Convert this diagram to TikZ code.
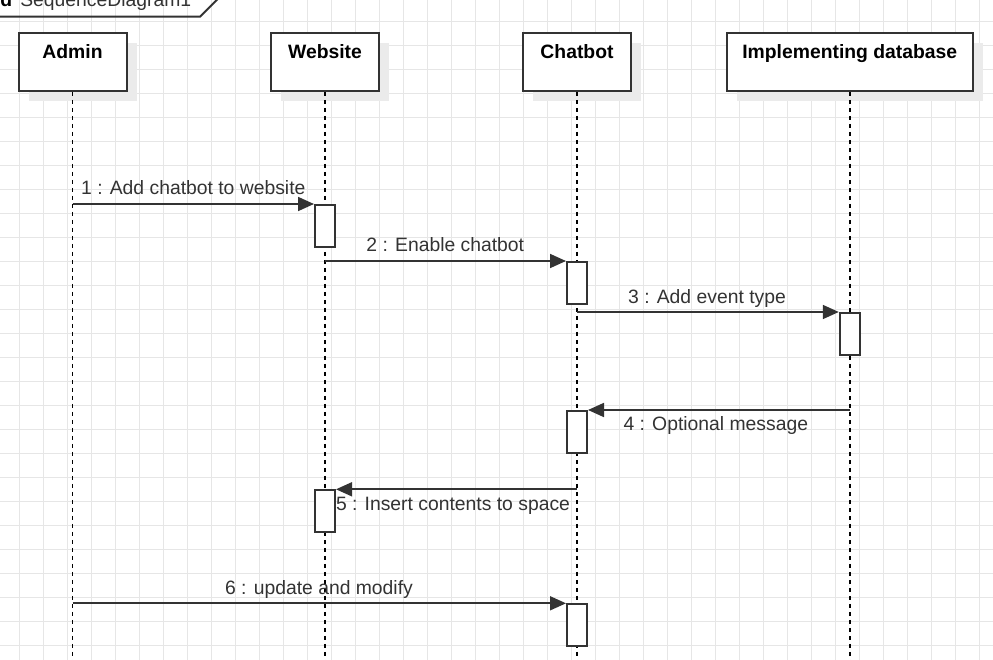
\documentclass[tikz,border=0pt]{standalone}
\usepackage{fontspec}
\setmainfont{Liberation Sans}
\usetikzlibrary{arrows.meta,shadows}
\definecolor{ink}{HTML}{333333}
\definecolor{gridc}{HTML}{E6E6E6}
\definecolor{shade}{HTML}{EBEBEB}
\tikzset{
 headbox/.style={draw=ink, line width=1.5pt, fill=white, inner sep=0pt, minimum height=43.5pt, text depth=15.5pt,
   font=\fontsize{14.5}{17}\selectfont\bfseries,
   drop shadow={shadow xshift=7.5pt, shadow yshift=-7.5pt, fill=shade, opacity=1, draw=none}},
 actbox/.style={draw=ink, line width=1.5pt, fill=white, minimum width=15pt, minimum height=31.5pt, inner sep=0pt, anchor=north},
 lifeline/.style={draw=black, line width=1.1pt, dash pattern=on 3pt off 3pt},
 msg/.style={draw=ink, line width=1.3pt, -{Triangle[length=12pt,width=10.5pt]}},
 msglabel/.style={text=ink, font=\fontsize{14.5}{17}\selectfont, inner sep=0pt, anchor=base},
 gridline/.style={draw=gridc, line width=0.75pt},
}
\begin{document}
\begin{tikzpicture}[x=0.75pt,y=-0.75pt]
\useasboundingbox (0,0) rectangle (993,660);
\clip (0,0) rectangle (993,660);
\fill[white] (0,0) rectangle (993,660);
% grid
\foreach \k in {0,...,40} \draw[gridline] (19.3+24*\k,0) -- (19.3+24*\k,660);
\foreach \k in {0,...,26} \draw[gridline] (0,21.3+24*\k) -- (993,21.3+24*\k);
% frame label
\draw[ink, line width=1.5pt] (-10,16.7) -- (200,16.7) -- (222,-5.3);
\node[text=black, font=\fontsize{14.5}{17}\selectfont\bfseries, inner sep=0pt, anchor=base east] (sdk) at (12.5,6.5) {sd};
\node[text=ink, font=\fontsize{14.5}{17}\selectfont, inner sep=0pt, anchor=base west] (sdname) at (20,6.5) {SequenceDiagram1};
% headers
\node[headbox, minimum width=81pt] (admin) at (72.5,61.8) {Admin};
\node[headbox, minimum width=81pt] (website) at (325,61.8) {Website};
\node[headbox, minimum width=81pt] (chatbot) at (577,61.8) {Chatbot};
\node[headbox, minimum width=184.2pt] (impl) at (849.8,61.8) {Implementing database};
% lifelines
\coordinate (bot) at (0,662);
\draw[lifeline] (admin.south) -- (admin.south |- bot);
\draw[lifeline] (website.south) -- (website.south |- bot);
\draw[lifeline] (chatbot.south) -- (chatbot.south |- bot);
\draw[lifeline] (impl.south) -- (impl.south |- bot);
% activation rows
\coordinate (y1) at (0,204);
\coordinate (y2) at (0,261);
\coordinate (y3) at (0,312);
\coordinate (y4) at (0,410);
\coordinate (y5) at (0,489.3);
\coordinate (y6) at (0,603.3);
\node[actbox] (act1) at (website.south |- y1) {};
\node[actbox] (act2) at (chatbot.south |- y2) {};
\node[actbox] (act3) at (impl.south |- y3) {};
\node[actbox] (act4) at (chatbot.south |- y4) {};
\node[actbox] (act5) at (website.south |- y5) {};
\node[actbox] (act6) at (chatbot.south |- y6) {};
% messages
\draw[msg] (admin.south |- act1.north) -- (act1.north west);
\draw[msg] (website.south |- act2.north) -- (act2.north west);
\draw[msg] (chatbot.south |- act3.north) -- (act3.north west);
\draw[msg] (impl.south |- act4.north) -- (act4.north east);
\draw[msg] (chatbot.south |- act5.north) -- (act5.north east);
\draw[msg] (admin.south |- act6.north) -- (act6.north west);
% labels
\node[msglabel] (l1) at (193.3,195) {1 : Add chatbot to website};
\node[msglabel] (l2) at (445.3,251.7) {2 : Enable chatbot};
\node[msglabel] (l3) at (707,303) {3 : Add event type};
\node[msglabel] (l4) at (715.8,430.7) {4 : Optional message};
\node[msglabel] (l5) at (453,510) {5 : Insert contents to space};
\node[msglabel] (l6) at (319,594) {6 : update and modify};
\end{tikzpicture}
\end{document}
